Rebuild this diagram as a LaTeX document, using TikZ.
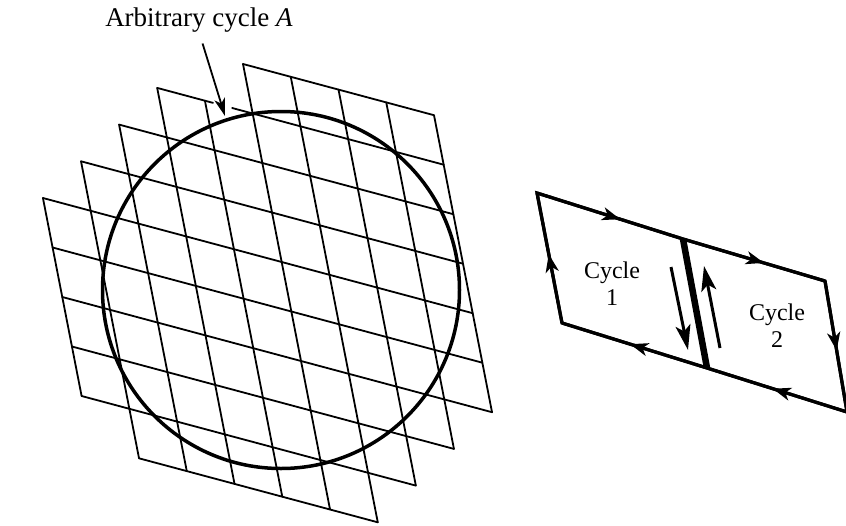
\documentclass[tikz,border=0pt]{standalone}
\usepackage{fontspec}
\setmainfont{Liberation Serif}
\usetikzlibrary{arrows.meta,decorations.markings}
\begin{document}
\begin{tikzpicture}[x=1pt,y=-1pt,
        cell/.style={line width=1.8pt,line cap=round},
        cyc/.style={line width=3.2pt,line join=miter},
        midarrow/.style={postaction={decorate},decoration={markings,
            mark=at position #1 with {\arrow{Stealth[length=18pt,width=13pt,inset=5pt]}}}},
        txt/.style={font=\fontsize{24}{27}\selectfont,align=center,inner sep=0pt}]
    \fill[white] (0,0) rectangle (846,525);
    \useasboundingbox (0,0) rectangle (846,525);
    % small Carnot cycles covering cycle A
    \begin{scope}[shift={(243pt,-64pt)},x={(47.75pt,-12.8pt)},y={(9.67pt,-49.5pt)}]
        \foreach \i/\a/\b in {-5/4/8,-4/3/9,-3/2/9,-2/1/9,-1/1/9,0/0/9,1/0/9,2/0/8,3/0/7,4/0/6}
            \draw[cell] (\i,\a) -- (\i,\b);
        \foreach \j/\a/\b in {0/0/4,2/-3/4,3/-4/4,4/-5/4,5/-5/4,6/-5/4,7/-5/3,8/-5/2,9/-4/1}
            \draw[cell] (\a,\j) -- (\b,\j);
        \draw[cell] (-2,1) -- (-0.83,1) (-0.43,1) -- (4,1); % gap at the pointer
    \end{scope}
    \coordinate (cA) at (281,290);
    \draw[line width=3.5pt] (cA) circle[radius=178.5];
    \node[txt,font=\fontsize{27}{30}\selectfont,anchor=base] (lblA) at (199,26) {Arbitrary cycle \textit{A}};
    \coordinate (tipA) at (225,116);
    \draw[line width=1.8pt,-{Stealth[length=18pt,width=11pt,inset=5pt]},shorten <=12pt] (lblA.south) -- (tipA);
    % two cycles sharing one path
    \coordinate (A1) at (537,193);
    \coordinate (A2) at (683,239);
    \coordinate (A3) at (825,281);
    \coordinate (B3) at (847,412);
    \coordinate (B2) at (707,368);
    \coordinate (B1) at (562,323);
    \draw[cyc] (A1) -- (A2) -- (A3) -- (B3) -- (B2) -- (B1) -- cycle;
    \draw[cyc,midarrow=0.57] (A1) -- (A2);
    \draw[cyc,midarrow=0.57] (A2) -- (A3);
    \draw[cyc,midarrow=0.53] (A3) -- (B3);
    \draw[cyc,midarrow=0.53] (B3) -- (B2);
    \draw[cyc,midarrow=0.53] (B2) -- (B1);
    \draw[cyc,midarrow=0.53] (B1) -- (A1);
    \draw[line width=6.5pt] (A2) -- (B2);
    \coordinate (D1) at (671,267);
    \coordinate (D2) at (688,350);
    \coordinate (U1) at (720,348);
    \coordinate (U2) at (704,266);
    \draw[line width=3pt,-{Stealth[length=25pt,width=15pt,inset=6pt]}] (D1) -- (D2);
    \draw[line width=3pt,-{Stealth[length=25pt,width=15pt,inset=6pt]}] (U1) -- (U2);
    \node[txt] (lbl1) at (612,284) {Cycle\\1};
    \node[txt] (lbl2) at (777,326) {Cycle\\2};
\end{tikzpicture}
\end{document}
